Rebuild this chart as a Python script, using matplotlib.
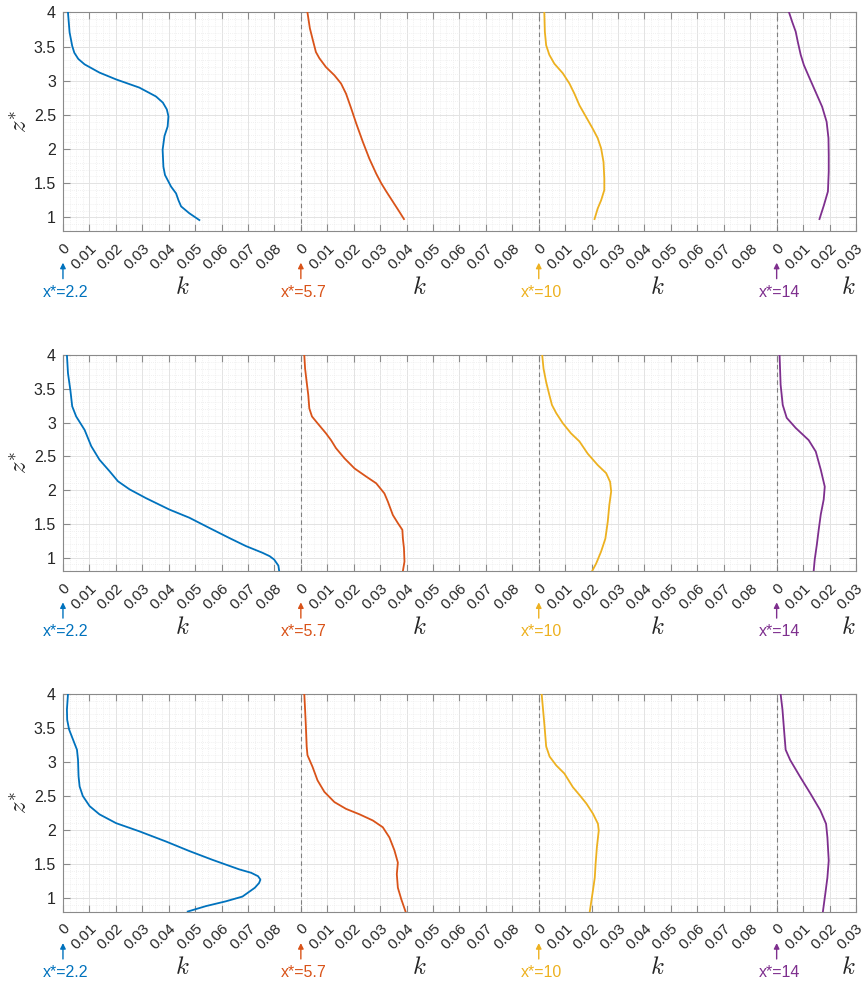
import numpy as np
import matplotlib
matplotlib.use('Agg')
import matplotlib.pyplot as plt
from matplotlib.ticker import MultipleLocator
from matplotlib.transforms import ScaledTranslation

plt.rcParams['font.family'] = ['Liberation Sans', 'DejaVu Sans']
plt.rcParams['mathtext.fontset'] = 'cm'

# stations and colours (MATLAB default order)
stations = ['x*=2.2', 'x*=5.7', 'x*=10', 'x*=14']
colors = ['#0072BD', '#D95319', '#EDB120', '#7E2F8E']
offsets = [0.0, 0.09, 0.18, 0.27]

# ---- panel 1 ----
p1_k_22 = [0.0019, 0.0025, 0.0035, 0.0043, 0.0058, 0.0082, 0.0138, 0.0201, 0.0289, 0.0352, 0.0378, 0.0393, 0.0399,
           0.0396, 0.0384, 0.0377, 0.0380, 0.0386, 0.0409, 0.0428, 0.0437, 0.0447, 0.0478, 0.0516]
p1_z_22 = [4.0, 3.71, 3.51, 3.41, 3.32, 3.24, 3.12, 3.02, 2.90, 2.77, 2.68, 2.58, 2.48,
           2.33, 2.19, 1.99, 1.74, 1.62, 1.45, 1.35, 1.25, 1.16, 1.06, 0.96]
p1_k_57 = [0.0025, 0.0034, 0.0047, 0.0057, 0.0070, 0.0095, 0.0127, 0.0152, 0.0171, 0.0190,
           0.0209, 0.0234, 0.0259, 0.0285, 0.0304, 0.0323, 0.0348, 0.0373, 0.0390]
p1_z_57 = [4.0, 3.77, 3.57, 3.42, 3.33, 3.20, 3.08, 2.96, 2.81, 2.60,
           2.38, 2.11, 1.86, 1.64, 1.50, 1.38, 1.23, 1.08, 0.975]
p1_k_10 = [0.0021, 0.0023, 0.0028, 0.0040, 0.0059, 0.0091, 0.0116, 0.0135, 0.0154, 0.0179,
           0.0204, 0.0223, 0.0236, 0.0245, 0.0248, 0.0248, 0.0236, 0.0223, 0.0211]
p1_z_10 = [4.0, 3.72, 3.52, 3.38, 3.25, 3.11, 2.96, 2.81, 2.64, 2.47,
           2.30, 2.16, 2.01, 1.81, 1.57, 1.40, 1.25, 1.13, 0.975]
p1_k_14 = [0.0047, 0.0059, 0.0072, 0.0080, 0.0091, 0.0103, 0.0122, 0.0147, 0.0172, 0.0189,
           0.0196, 0.0197, 0.0197, 0.0194, 0.0179, 0.0162]
p1_z_14 = [4.0, 3.86, 3.72, 3.57, 3.38, 3.23, 3.06, 2.84, 2.62, 2.40,
           2.16, 1.91, 1.67, 1.38, 1.18, 0.975]

# ---- panel 2 ----
p2_k_22 = [0.0015, 0.0019, 0.0028, 0.0035, 0.0050, 0.0082, 0.0107, 0.0138, 0.0176, 0.0208, 0.0252,
           0.0314, 0.0403, 0.0478, 0.0553, 0.0629, 0.0692, 0.0755, 0.0782, 0.0799, 0.0815, 0.0818]
p2_z_22 = [4.0, 3.73, 3.48, 3.24, 3.09, 2.89, 2.65, 2.45, 2.28, 2.13, 2.01,
           1.88, 1.71, 1.59, 1.44, 1.29, 1.17, 1.07, 1.02, 0.97, 0.88, 0.80]
p2_k_57 = [0.0013, 0.0016, 0.0022, 0.0028, 0.0032, 0.0042, 0.0063, 0.0095, 0.0114, 0.0133, 0.0165, 0.0203,
           0.0247, 0.0285, 0.0316, 0.0329, 0.0348, 0.0367, 0.0384, 0.0386, 0.0390, 0.0392, 0.0386]
p2_z_57 = [4.0, 3.80, 3.60, 3.41, 3.21, 3.09, 2.99, 2.84, 2.74, 2.62, 2.47, 2.32,
           2.20, 2.10, 1.95, 1.83, 1.63, 1.51, 1.41, 1.28, 1.14, 0.94, 0.80]
p2_k_10 = [0.0013, 0.0018, 0.0028, 0.0040, 0.0050, 0.0066, 0.0091, 0.0122, 0.0154, 0.0185,
           0.0223, 0.0255, 0.0270, 0.0274, 0.0267, 0.0261, 0.0252, 0.0236, 0.0217, 0.0202]
p2_z_10 = [4.0, 3.80, 3.60, 3.41, 3.26, 3.14, 2.99, 2.84, 2.72, 2.54,
           2.37, 2.25, 2.12, 1.98, 1.78, 1.53, 1.28, 1.09, 0.91, 0.80]
p2_k_14 = [0.0011, 0.0015, 0.0023, 0.0038, 0.0072, 0.0121, 0.0148, 0.0167, 0.0182,
           0.0178, 0.0167, 0.0159, 0.0152, 0.0144, 0.0140]
p2_z_14 = [4.0, 3.56, 3.26, 3.07, 2.92, 2.74, 2.57, 2.30, 2.05,
           1.86, 1.64, 1.41, 1.19, 0.97, 0.80]

# ---- panel 3 ----
p3_k_22 = [0.0019, 0.0015, 0.0016, 0.0023, 0.0038, 0.0053, 0.0057, 0.0059, 0.0063, 0.0075, 0.0101, 0.0138,
           0.0201, 0.0289, 0.0390, 0.0478, 0.0566, 0.0667, 0.0712, 0.0738, 0.0747, 0.0742, 0.0726,
           0.0679, 0.0616, 0.0541, 0.0472]
p3_z_22 = [4.0, 3.77, 3.62, 3.48, 3.33, 3.18, 3.03, 2.79, 2.64, 2.50, 2.35, 2.23,
           2.10, 1.98, 1.83, 1.69, 1.56, 1.42, 1.37, 1.32, 1.27, 1.22, 1.15,
           1.02, 0.95, 0.88, 0.80]
p3_k_57 = [0.0013, 0.0016, 0.0019, 0.0022, 0.0025, 0.0044, 0.0063, 0.0089, 0.0127, 0.0171,
           0.0222, 0.0272, 0.0310, 0.0335, 0.0354, 0.0367, 0.0363, 0.0367, 0.0380, 0.0396]
p3_z_57 = [4.0, 3.77, 3.52, 3.23, 3.10, 2.93, 2.73, 2.56, 2.41, 2.31,
           2.23, 2.14, 2.04, 1.89, 1.70, 1.52, 1.35, 1.15, 0.98, 0.80]
p3_k_10 = [0.0011, 0.0022, 0.0028, 0.0041, 0.0066, 0.0097, 0.0129, 0.0155, 0.0180, 0.0205,
           0.0224, 0.0227, 0.0220, 0.0215, 0.0212, 0.0205, 0.0193]
p3_z_10 = [4.0, 3.52, 3.23, 3.08, 2.95, 2.83, 2.63, 2.51, 2.39, 2.24,
           2.09, 1.99, 1.75, 1.50, 1.30, 1.11, 0.80]
p3_k_14 = [0.0015, 0.0022, 0.0028, 0.0034, 0.0051, 0.0089, 0.0127, 0.0165, 0.0187,
           0.0192, 0.0197, 0.0192, 0.0184, 0.0175]
p3_z_14 = [4.0, 3.77, 3.47, 3.18, 3.03, 2.78, 2.54, 2.29, 2.09,
           1.89, 1.55, 1.30, 1.06, 0.80]

panels = [
    [(p1_k_22, p1_z_22), (p1_k_57, p1_z_57), (p1_k_10, p1_z_10), (p1_k_14, p1_z_14)],
    [(p2_k_22, p2_z_22), (p2_k_57, p2_z_57), (p2_k_10, p2_z_10), (p2_k_14, p2_z_14)],
    [(p3_k_22, p3_z_22), (p3_k_57, p3_z_57), (p3_k_10, p3_z_10), (p3_k_14, p3_z_14)],
]

xticks = np.round(np.arange(0, 0.3001, 0.01), 2)
xticklabels = ['%g' % round(t - 0.09 * min(int(round(t / 0.09, 6)), 3), 2) for t in xticks]
yticks = [1, 1.5, 2, 2.5, 3, 3.5, 4]

fig = plt.figure(figsize=(8.66, 9.83), dpi=100)
boxes = [[0.0727, 0.765, 0.9157, 0.2223],
         [0.0727, 0.4191, 0.9157, 0.2197],
         [0.0727, 0.0727, 0.9157, 0.2213]]

spine_c = '#8a8a8a'
text_c = '#262626'
# rotated tick labels: right end sits just right of / below the tick
lab_shift = ScaledTranslation(0.05, -0.15, fig.dpi_scale_trans)

for box, curves in zip(boxes, panels):
    ax = fig.add_axes(box)
    ax.set_xlim(0, 0.30)
    ax.set_ylim(0.8, 4)

    for off in offsets[1:]:
        ax.axvline(off, color='#808080', ls=(0, (4, 3)), lw=0.8, zorder=1)

    for (k, z), c, off in zip(curves, colors, offsets):
        ax.plot(np.array(k) + off, z, color=c, lw=1.3, zorder=3)

    tr = ax.get_xaxis_transform()
    ax.set_xticks(xticks)
    ax.set_xticklabels([])
    for t, lab in zip(xticks, xticklabels):
        ax.text(t, 0, lab, transform=tr + lab_shift, rotation=45, rotation_mode='anchor',
                ha='right', va='center', fontsize=11, color=text_c)
    ax.set_yticks(yticks)
    ax.set_yticklabels(['%g' % v for v in yticks], fontsize=11.5, color=text_c)
    ax.xaxis.set_minor_locator(MultipleLocator(0.0025))
    ax.yaxis.set_minor_locator(MultipleLocator(0.1))
    ax.tick_params(which='both', direction='in', top=True, right=True, color=spine_c)
    ax.tick_params(which='major', length=5, width=0.8)
    ax.tick_params(axis='y', which='major', pad=5)
    ax.tick_params(which='minor', length=0)
    ax.grid(which='major', color='#e3e3e3', lw=0.7, zorder=0)
    ax.grid(which='minor', color='#ececec', lw=0.6, ls=(0, (1, 1.5)), zorder=0)
    ax.set_axisbelow(True)
    for s in ax.spines.values():
        s.set_color(spine_c)
        s.set_linewidth(0.8)

    ax.set_ylabel(r'$z^{*}$', fontsize=18, color=text_c)
    ax.yaxis.set_label_coords(-0.039, 0.5)

    for name, c, off in zip(stations, colors, offsets):
        ax.annotate('', xy=(off, -0.145), xycoords=tr, xytext=(off, -0.218), textcoords=tr,
                    arrowprops=dict(arrowstyle='-|>', color=c, lw=1.0, mutation_scale=8,
                                    shrinkA=0, shrinkB=0))
        ax.text(off + 0.001, -0.282, name, transform=tr, color=c, fontsize=11.5,
                ha='center', va='center')
        kx = min(off + 0.045, 0.297)
        ax.text(kx, -0.257, r'$k$', transform=tr, color=text_c, fontsize=18,
                ha='center', va='center')

fig.savefig('out.png', dpi=100)
